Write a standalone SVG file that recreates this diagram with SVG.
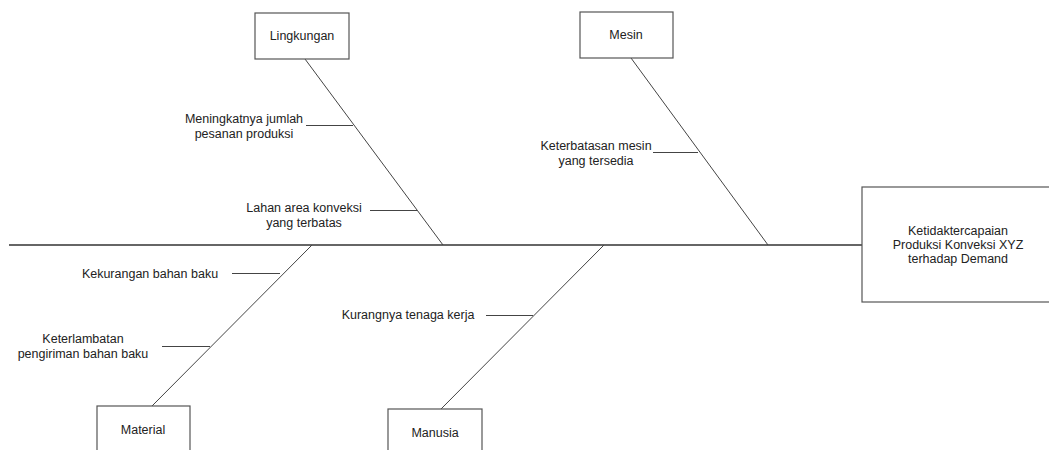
<svg xmlns="http://www.w3.org/2000/svg" width="1049" height="450" viewBox="0 0 1049 450">
<style>
.box{fill:#fff;stroke:#555;stroke-width:1.2}
.ln{stroke:#444;stroke-width:1;fill:none}
.sp{stroke:#333;stroke-width:1.3;fill:none}
text{font-family:"Liberation Sans",Arial,sans-serif;font-size:12.5px;fill:#222;text-anchor:middle}
</style>
<rect width="1049" height="450" fill="#fff"/>
<g id="connectors">
<line class="sp" x1="9" y1="245" x2="862" y2="245"/>
<line class="ln" x1="305" y1="59" x2="443" y2="245"/>
<line class="ln" x1="631" y1="58" x2="768" y2="245"/>
<line class="ln" x1="312" y1="245" x2="152" y2="406"/>
<line class="ln" x1="604" y1="245" x2="441" y2="409"/>
<line class="ln" x1="306" y1="125.5" x2="353" y2="125.5"/>
<line class="ln" x1="370" y1="210.5" x2="417" y2="210.5"/>
<line class="ln" x1="653" y1="152.5" x2="698" y2="152.5"/>
<line class="ln" x1="232" y1="273.5" x2="280" y2="273.5"/>
<line class="ln" x1="162" y1="346.5" x2="210" y2="346.5"/>
<line class="ln" x1="486" y1="315.5" x2="533" y2="315.5"/>
</g>
<g id="lingkungan">
<rect class="box" x="255" y="13" width="94" height="46"/>
<text x="302" y="40">Lingkungan</text>
</g>
<g id="mesin">
<rect class="box" x="580" y="12" width="93" height="46"/>
<text x="626" y="39">Mesin</text>
</g>
<g id="material">
<rect class="box" x="97" y="406" width="93" height="60"/>
<text x="143" y="434">Material</text>
</g>
<g id="manusia">
<rect class="box" x="388" y="409" width="94" height="60"/>
<text x="435" y="437">Manusia</text>
</g>
<g id="effect">
<rect class="box" x="862" y="187" width="195" height="115"/>
<text x="958" y="235">Ketidaktercapaian</text>
<text x="958" y="249">Produksi Konveksi XYZ</text>
<text x="958" y="263">terhadap Demand</text>
</g>
<g id="cause-meningkatnya">
<text x="244" y="123">Meningkatnya jumlah</text>
<text x="244" y="138">pesanan produksi</text>
</g>
<g id="cause-lahan">
<text x="304" y="212">Lahan area konveksi</text>
<text x="304" y="227">yang terbatas</text>
</g>
<g id="cause-keterbatasan">
<text x="596" y="150">Keterbatasan mesin</text>
<text x="596" y="165">yang tersedia</text>
</g>
<g id="cause-kekurangan">
<text x="150" y="278">Kekurangan bahan baku</text>
</g>
<g id="cause-keterlambatan">
<text x="83" y="343">Keterlambatan</text>
<text x="83" y="358">pengiriman bahan baku</text>
</g>
<g id="cause-kurangnya">
<text x="408" y="319">Kurangnya tenaga kerja</text>
</g>
</svg>
